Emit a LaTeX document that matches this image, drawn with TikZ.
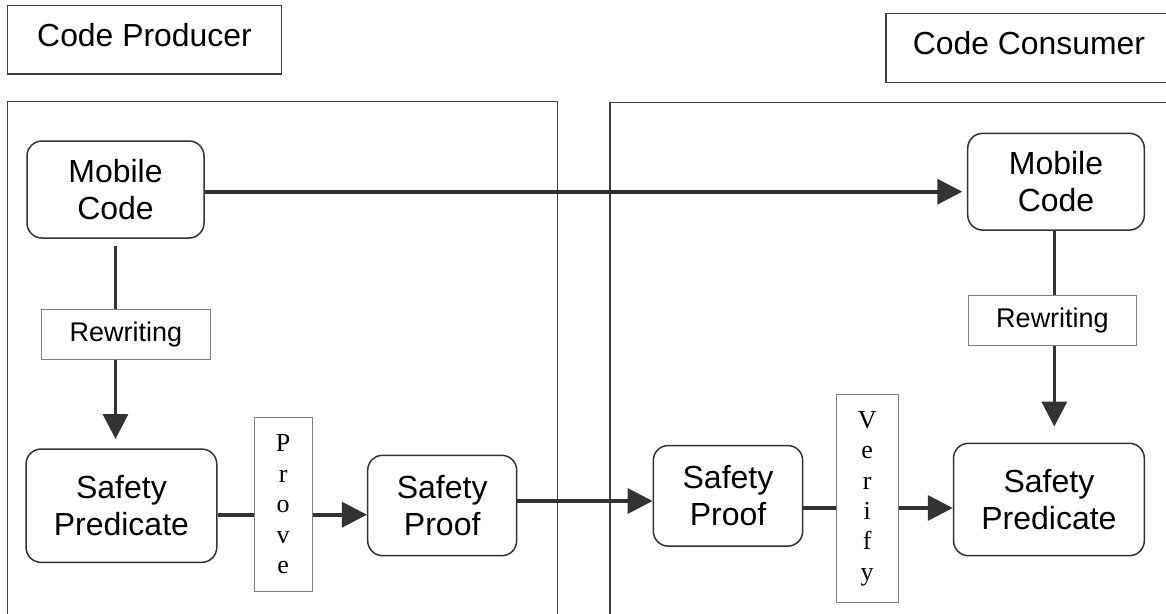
\documentclass[tikz,border=0pt]{standalone}
\usepackage{fontspec}
\setmainfont{Liberation Sans}
\newfontfamily\serifface{Liberation Serif}
\usetikzlibrary{arrows.meta}
\definecolor{ink}{HTML}{333333}
\definecolor{framegray}{HTML}{404040}
\definecolor{lgray}{HTML}{808080}
\begin{document}
\begin{tikzpicture}[x=1pt,y=-1pt,
  titlebox/.style={draw=framegray, line width=1.4pt, inner sep=0pt, text depth=9pt,
    font=\fontsize{31.9}{36.5}\selectfont},
  roundbox/.style={draw=ink, line width=1.5pt, rounded corners=15pt, inner sep=0pt, align=center,
    font=\fontsize{32}{36.5}\selectfont},
  labelbox/.style={draw=lgray, line width=1pt, inner sep=0pt,
    font=\fontsize{27}{30}\selectfont},
  vertbox/.style={draw=lgray, line width=1pt, inner sep=0pt, align=center,
    font=\serifface\fontsize{26}{30.4}\selectfont},
  frame/.style={draw=framegray, line width=1.3pt},
  conn/.style={draw=ink, line width=3.6pt},
  arr/.style={conn, -{Triangle[length=25pt,width=25pt]}}]
\useasboundingbox (0,0) rectangle (1166,613);
\clip (0,0) rectangle (1166,613);
\fill[white] (0,0) rectangle (1166,613);

% frames
\draw[frame] (7.3,640) |- (557.7,101.7) -- (557.7,640);
\draw[frame] (610,640) |- (1220,102.3);

% titles
\node[titlebox, minimum width=274.4pt, minimum height=68.3pt] (cp) at (144.5,39.85) {Code Producer};
\node[titlebox, minimum width=286pt, minimum height=69pt] (cc) at (1029,47.8) {Code Consumer};

% producer side
\node[roundbox, minimum width=177pt, minimum height=97pt] (lmc) at (115.5,189.5) {Mobile\\Code};
\node[labelbox, minimum width=169.4pt, minimum height=50pt] (lrw) at (126,334.3) {Rewriting};
\node[roundbox, minimum width=190.7pt, minimum height=113.3pt] (lsp) at (121.4,505.7) {Safety\\Predicate};
\node[vertbox, minimum width=58.3pt, minimum height=174pt, text width=58pt] (prove) at (283.2,504.3) {P\\r\\o\\v\\e};
\node[roundbox, minimum width=149pt, minimum height=100.4pt] (lpf) at (442.2,505.5) {Safety\\Proof};

% consumer side
\node[roundbox, minimum width=176.6pt, minimum height=96.7pt] (rmc) at (1056,181.7) {Mobile\\Code};
\node[labelbox, minimum width=168.4pt, minimum height=50pt] (rrw) at (1052.5,320.7) {Rewriting};
\node[roundbox, minimum width=190.8pt, minimum height=112.4pt] (rsp) at (1048.9,499.5) {Safety\\Predicate};
\node[roundbox, minimum width=149.4pt, minimum height=100.6pt] (rpf) at (728,495.8) {Safety\\Proof};
\node[vertbox, minimum width=62.3pt, minimum height=207.6pt, text width=62pt] (verify) at (867.2,498.5) {V\\e\\r\\i\\f\\y};

% connectors
\draw[arr, shorten >=4.7pt] ([yshift=-2.2pt]lmc.east) -- ([yshift=-10pt]rmc.west);
\draw[conn, shorten <=7pt] (lmc.south) -- (lmc.south |- lrw.north);
\draw[arr, shorten >=9.3pt] (lmc.south |- lrw.south) -- (lmc.south |- lsp.north);
\draw[conn] ([yshift=-9pt]lsp.east) -- ([yshift=-9pt]lsp.east -| prove.west);
\draw[arr] ([yshift=-9pt]lsp.east -| prove.east) -- ([yshift=-9pt]lsp.east -| lpf.west);
\draw[arr] ([yshift=4.5pt]lpf.east) -- ([yshift=-5.2pt]rpf.west);

\draw[conn] ([xshift=-1.7pt]rmc.south) -- ([xshift=-1.7pt]rmc.south |- rrw.north);
\draw[arr, shorten >=16pt] ([xshift=-1.7pt]rmc.south |- rrw.south) -- ([xshift=-1.7pt]rmc.south |- rsp.north);
\draw[conn] ([yshift=-12.2pt]rpf.east) -- ([yshift=-12.2pt]rpf.east -| verify.west);
\draw[arr] ([yshift=-12.2pt]rpf.east -| verify.east) -- ([yshift=-12.2pt]rpf.east -| rsp.west);
\end{tikzpicture}
\end{document}
